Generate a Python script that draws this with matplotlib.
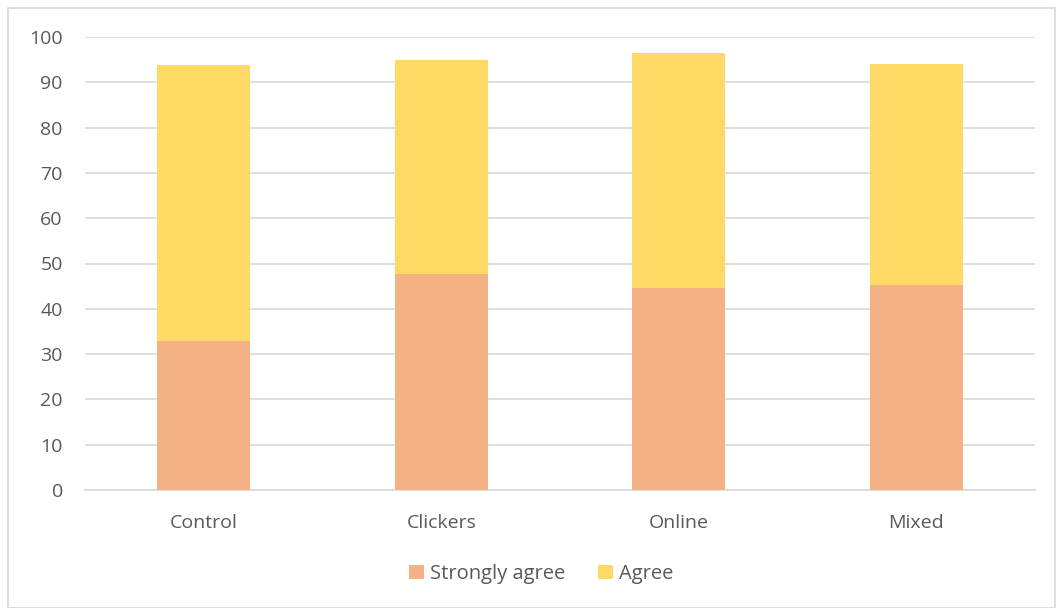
import numpy as np
import matplotlib
matplotlib.use('Agg')
import matplotlib.pyplot as plt
from matplotlib.patches import Rectangle

plt.rcParams["font.family"] = ["Open Sans", "DejaVu Sans"]

categories = ['Control', 'Clickers', 'Online', 'Mixed']
strongly_agree = [33.0, 47.6, 44.5, 45.2]
agree = [60.8, 47.3, 52.0, 48.8]
yticks = list(range(0, 101, 10))

text_color = '#595959'
grid_color = '#D9D9D9'

fig = plt.figure(figsize=(10.56, 6.08), dpi=100)
ax = fig.add_axes([85 / 1056, 1 - 490 / 608, 950 / 1056, 453 / 608])

x = np.arange(len(categories))
w = 0.39
ax.bar(x, strongly_agree, width=w, color='#F4B183', label='Strongly agree', zorder=3)
ax.bar(x, agree, width=w, bottom=strongly_agree, color='#FFD966', label='Agree', zorder=3)

ax.set_xlim(-0.5, len(categories) - 0.5)
ax.set_ylim(0, 100)
ax.set_yticks(yticks)
ax.set_xticks(x)
ax.set_xticklabels(categories)
ax.yaxis.grid(True, color=grid_color, linewidth=1.2, zorder=0)
for s in ['top', 'right', 'left']:
    ax.spines[s].set_visible(False)
ax.spines['bottom'].set_color(grid_color)
ax.spines['bottom'].set_linewidth(1.2)
ax.tick_params(axis='both', length=0, labelsize=14, colors=text_color)
ax.tick_params(axis='y', pad=16)
ax.tick_params(axis='x', pad=17)

leg = fig.legend(loc='center', bbox_to_anchor=(541 / 1056, 1 - 574 / 608), ncol=2,
                 frameon=False, fontsize=14.5, handlelength=0.75, handleheight=0.75,
                 handletextpad=0.3, columnspacing=1.6)
for t in leg.get_texts():
    t.set_color(text_color)

fig.patches.append(Rectangle((8 / 1056, 0), 1 - 8 / 1056 - 1 / 1056, 1 - 8 / 608,
                             transform=fig.transFigure, fill=False,
                             edgecolor='#D9D9D9', linewidth=1.2))

fig.savefig('out.png', dpi=100)
